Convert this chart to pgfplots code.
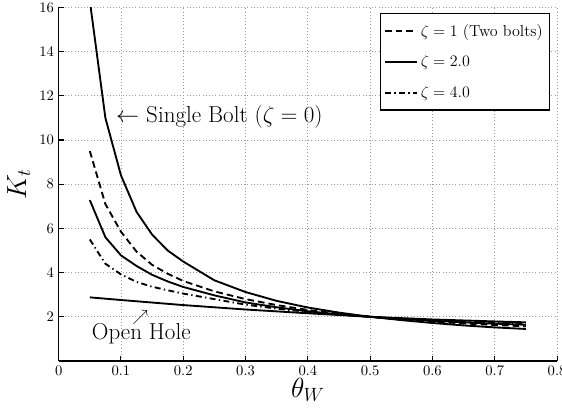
\documentclass[border=0pt]{standalone}
\usepackage{pgfplots}
\pgfplotsset{compat=1.18}
\begin{document}
\begin{tikzpicture}
\begin{axis}[
  scale only axis, width=373.8pt, height=265.2pt,
  xmin=0, xmax=0.8, ymin=0, ymax=16,
  xtick={0,0.1,0.2,0.3,0.4,0.5,0.6,0.7,0.8},
  ytick={2,4,6,8,10,12,14,16},
  axis x line*=bottom, axis y line*=left,
  axis line style={line width=0.9pt},
  grid=major, major grid style={dotted, gray!80, line width=0.6pt},
  tick style={black, line width=0.8pt}, major tick length=4pt,
  ticklabel style={font=\fontsize{10.5}{12}\selectfont},
  xlabel={$\theta_W$}, ylabel={$K_t$},
  label style={font=\fontsize{20}{24}\selectfont},
  xlabel style={yshift=4.5pt},
  legend style={at={(1,1)}, anchor=north east, xshift=-5.3pt, yshift=-4.2pt,
    draw=black, line width=1pt, font=\fontsize{12}{14}\selectfont,
    row sep=9pt, inner ysep=6pt, inner xsep=3pt, cells={anchor=west}},
  legend image code/.code={\draw[#1] (0pt,0pt) -- (24pt,0pt);},
  every axis plot/.append style={line width=1.4pt, black},
]
\coordinate (O) at (rel axis cs:0,0);
% zeta = 1 (two bolts)
\addplot[dash pattern=on 5pt off 3pt] coordinates {
(0.05,9.5) (0.075,7.1) (0.1,5.85) (0.125,4.95) (0.15,4.35) (0.175,3.95)
(0.2,3.62) (0.25,3.15) (0.3,2.8) (0.35,2.53) (0.4,2.31) (0.45,2.14)
(0.5,2.0) (0.55,1.88) (0.6,1.78) (0.65,1.7) (0.7,1.63) (0.75,1.57)};
\addlegendentry{$\zeta=1$ (Two bolts)}
% zeta = 2
\addplot[solid] coordinates {
(0.05,7.28) (0.075,5.6) (0.1,4.78) (0.125,4.3) (0.15,3.9) (0.175,3.6)
(0.2,3.35) (0.25,2.97) (0.3,2.65) (0.35,2.43) (0.4,2.25) (0.45,2.11)
(0.5,2.0) (0.55,1.9) (0.6,1.82) (0.65,1.75) (0.7,1.69) (0.75,1.64)};
\addlegendentry{$\zeta=2.0$}
% zeta = 4
\addplot[dash pattern=on 4.5pt off 2.5pt on 1pt off 2.5pt] coordinates {
(0.05,5.5) (0.075,4.4) (0.1,3.92) (0.125,3.58) (0.15,3.36) (0.175,3.2)
(0.2,3.05) (0.25,2.8) (0.3,2.55) (0.35,2.37) (0.4,2.22) (0.45,2.1)
(0.5,2.0) (0.55,1.92) (0.6,1.85) (0.65,1.79) (0.7,1.74) (0.75,1.7)};
\addlegendentry{$\zeta=4.0$}
% single bolt (zeta = 0)
\addplot[solid, forget plot] coordinates {
(0.05,16.3) (0.075,11.0) (0.1,8.4) (0.125,6.75) (0.15,5.72) (0.175,5.0)
(0.2,4.5) (0.25,3.65) (0.3,3.12) (0.35,2.72) (0.4,2.42) (0.45,2.19)
(0.5,2.0) (0.55,1.85) (0.6,1.72) (0.65,1.61) (0.7,1.52) (0.75,1.45)};
% open hole
\addplot[solid, forget plot] coordinates {
(0.05,2.88) (0.1,2.76) (0.2,2.53) (0.3,2.33) (0.4,2.16) (0.5,2.0)
(0.6,1.88) (0.7,1.79) (0.75,1.75)};
\node[anchor=west, font=\LARGE, inner sep=0pt] at (axis cs:0.092,11.05) {$\leftarrow$ Single Bolt ($\zeta=0$)};
\node[anchor=west, font=\LARGE, inner sep=0pt] at (axis cs:0.053,1.25) {Open Hole};
\node[font=\large, inner sep=0pt] at (axis cs:0.131,1.99) {$\nearrow$};
\end{axis}
\pgfresetboundingbox
\path (O) ++(-44pt,-35.25pt) rectangle ++(421.5pt,306pt);
\end{tikzpicture}
\end{document}
